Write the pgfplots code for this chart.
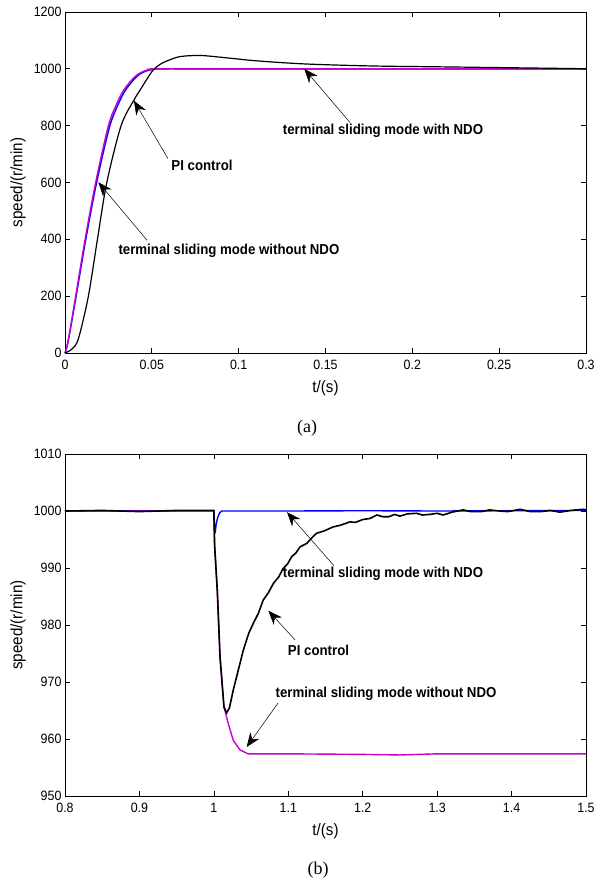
\documentclass[border=0pt]{standalone}
\usepackage{fontspec}
\setmainfont{Liberation Sans}[FakeStretch=0.92]
\newfontfamily\capfont{Liberation Serif}
\usepackage{pgfplots}
\pgfplotsset{compat=1.18}
\usetikzlibrary{arrows.meta}
\definecolor{tsmblue}{RGB}{0,0,255}
\definecolor{tsmmag}{RGB}{200,0,200}

\pgfplotsset{
  speedaxis/.style={
    scale only axis, width=521pt, anchor=south west,
    axis line style={line width=0.9pt},
    tick style={line width=0.7pt, black},
    tick align=inside, major tick length=5pt,
    xtick pos=both, ytick pos=both,
    tick label style={font=\fontsize{13.5}{14}\selectfont},
    xticklabel style={yshift=-4pt},
    /pgf/number format/assume math mode=true,
    /pgf/number format/1000 sep={},
    label style={font=\fontsize{16.5}{17}\selectfont},
    xlabel style={at={(axis description cs:0.5,0)}, anchor=center, yshift=-35pt},
    ylabel style={at={(axis description cs:0,0.5)}, anchor=center, yshift=47pt},
    xlabel={t/(s)}, ylabel={speed/(r/min)},
    clip=false,
  },
}
\tikzset{
  ann/.style={font=\bfseries\fontsize{14.4}{15}\selectfont},
  arr/.style={line width=0.5pt, -{Stealth[length=14pt, width=11pt, inset=4.5pt]}},
}

\begin{document}
\begin{tikzpicture}
\useasboundingbox (0,0) rectangle (609pt,-883pt);

% (a) start-up
\begin{axis}[speedaxis, at={(65pt,-353pt)}, height=341pt,
  xmin=0, xmax=0.3, ymin=0, ymax=1200,
  xtick={0,0.05,0.1,0.15,0.2,0.25,0.3},
  xticklabels={0,0.05,0.1,0.15,0.2,0.25,0.3},
  ytick={0,200,400,600,800,1000,1200}]
\addplot[tsmblue, line width=1.4pt, smooth] coordinates {
  (0,0) (0.0019,44) (0.0063,196) (0.0118,394) (0.018,594) (0.0256,795)
  (0.031,880) (0.0345,922) (0.039,958) (0.043,981) (0.047,993) (0.051,998)
  (0.054,1000) (0.1,1000) (0.3,1000)};
\addplot[tsmmag, line width=1.4pt, smooth] coordinates {
  (0,0) (0.0019,45) (0.0061,198) (0.0115,397) (0.0176,598) (0.025,800)
  (0.030,880) (0.0336,923) (0.038,958) (0.042,981) (0.046,993) (0.050,998)
  (0.053,1000) (0.1,1000) (0.3,1000)};
\addplot[black, line width=1.2pt, smooth] coordinates {
  (0,0) (0.004,14) (0.0077,50) (0.0134,198) (0.0186,397) (0.024,598)
  (0.0323,800) (0.0397,890) (0.0432,925) (0.0475,967) (0.0507,995)
  (0.0545,1015) (0.0588,1028) (0.0662,1043) (0.0778,1047) (0.091,1040)
  (0.1106,1028) (0.139,1017) (0.1774,1010) (0.216,1007) (0.2545,1004)
  (0.2925,1001) (0.3,1000)};
\node[ann] at (axis cs:0.1831,783) {terminal sliding mode with NDO};
\draw[arr] (axis cs:0.1641,811) -- (axis cs:0.1378,1000);
\node[ann] at (axis cs:0.0789,660) {PI control};
\draw[arr] (axis cs:0.0593,684) -- (axis cs:0.0397,888);
\node[ann] at (axis cs:0.0944,358) {terminal sliding mode without NDO};
\draw[arr] (axis cs:0.0472,397) -- (axis cs:0.0192,601);
\end{axis}
\node[font=\capfont\fontsize{18}{19}\selectfont] at (307pt,-428pt) {(a)};

% (b) load disturbance
\begin{axis}[speedaxis, at={(65pt,-796pt)}, height=342pt,
  xmin=0.8, xmax=1.5, ymin=950, ymax=1010,
  xtick={0.8,0.9,1,1.1,1.2,1.3,1.4,1.5},
  xticklabels={0.8,0.9,1,1.1,1.2,1.3,1.4,1.5},
  ytick={950,960,970,980,990,1000,1010}]
\addplot[tsmblue, line width=1.4pt] coordinates {
  (0.8,1000) (0.9,1000.05) (1.0,1000) (1.0012,997) (1.0018,996.1)
  (1.003,997.6) (1.005,998.8) (1.0075,999.6) (1.0105,1000) (1.1,1000)
  (1.2,1000.05) (1.3,1000) (1.4,1000.05) (1.5,1000.1)};
\addplot[tsmmag, line width=1.4pt] coordinates {
  (0.8,1000) (1.0,1000) (1.001,994) (1.0046,986.1) (1.0083,974.4)
  (1.0136,965.6) (1.0172,963.8) (1.0194,962.7) (1.026,959.8) (1.035,958.1)
  (1.046,957.4) (1.1,957.4) (1.2,957.3) (1.25,957.2) (1.3,957.4)
  (1.4,957.4) (1.5,957.4)};
\addplot[black, line width=1.6pt] coordinates {
  (0.8,1000) (0.85,1000.1) (0.9,999.9) (0.95,1000.1) (1.0,1000.1)
  (1.001,994) (1.0046,986.1) (1.0083,974.4) (1.0136,965.6) (1.0172,964.6)
  (1.021,965.5) (1.0261,968.6) (1.0396,975.6) (1.047,978.6) (1.053,980.3)
  (1.06,982.1) (1.0664,984.4) (1.073,985.6) (1.080,987.3) (1.087,988.4)
  (1.093,989.9) (1.099,990.7) (1.1046,992) (1.11,992.6) (1.1157,993.7)
  (1.1247,994.3) (1.131,995.2) (1.138,996.1) (1.148,996.5) (1.16,997.2)
  (1.17,997.5) (1.183,998.1) (1.19,998.0) (1.2,998.5) (1.21,998.7)
  (1.219,999.3) (1.227,999.0) (1.235,999.0) (1.243,999.4) (1.25,999.1)
  (1.26,999.5) (1.2725,999.6) (1.28,999.3) (1.29,999.4) (1.3,999.6)
  (1.308,999.3) (1.32,999.8) (1.335,1000.2) (1.345,999.9) (1.36,999.9)
  (1.37,1000.2) (1.384,1000) (1.395,999.9) (1.4113,1000.3) (1.425,999.9)
  (1.44,999.9) (1.452,1000.1) (1.465,999.8) (1.48,1000.1) (1.496,1000.3)
  (1.5,1000.2)};
\node[ann] at (axis cs:1.2272,988.9) {terminal sliding mode with NDO};
\draw[arr] (axis cs:1.1614,990.4) -- (axis cs:1.0983,999.8);
\node[ann] at (axis cs:1.1406,975.6) {PI control};
\draw[arr] (axis cs:1.109,977.4) -- (axis cs:1.0732,982.5);
\node[ann] at (axis cs:1.2313,967.9) {terminal sliding mode without NDO};
\draw[arr] (axis cs:1.0862,966.3) -- (axis cs:1.0441,958.6);
\end{axis}
\node[font=\capfont\fontsize{18}{19}\selectfont] at (318pt,-870pt) {(b)};
\end{tikzpicture}
\end{document}
